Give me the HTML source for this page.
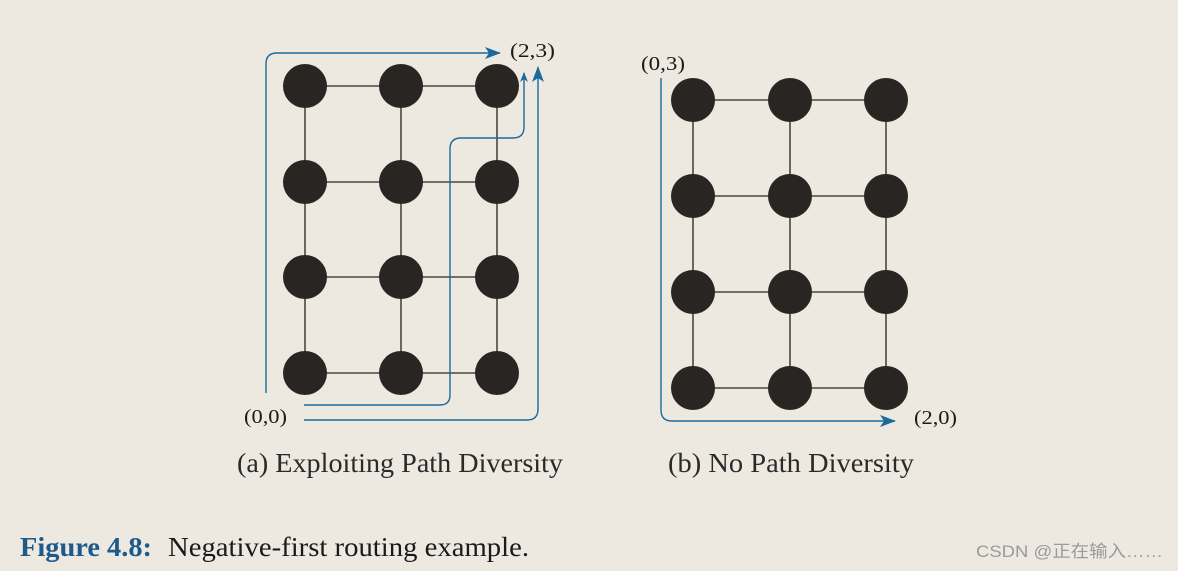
<!DOCTYPE html>
<html><head><meta charset="utf-8"><style>
html,body{margin:0;padding:0;background:#ede9e1;}
svg{display:block}
</style></head><body>
<svg width="1178" height="571" viewBox="0 0 1178 571" xmlns="http://www.w3.org/2000/svg" font-family="Liberation Serif, serif">
<rect width="1178" height="571" fill="#ede9e1"/>
<defs>
<marker id="ah" markerWidth="10" markerHeight="8" refX="9" refY="4" orient="auto" markerUnits="userSpaceOnUse">
<path d="M0,0 L10,4 L0,8 L3,4 Z" fill="#1a6a9c"/>
</marker>
<marker id="ahs" markerWidth="16" markerHeight="12" refX="15" refY="6" orient="auto" markerUnits="userSpaceOnUse">
<path d="M0,0 L16,6 L0,12 L4,6 Z" fill="#1a6a9c"/>
</marker>
</defs>
<g stroke="#4a4744" stroke-width="1.6">
<line x1="305" y1="86" x2="497" y2="86"/><line x1="305" y1="182" x2="497" y2="182"/>
<line x1="305" y1="277" x2="497" y2="277"/><line x1="305" y1="373" x2="497" y2="373"/>
<line x1="305" y1="86" x2="305" y2="373"/><line x1="401" y1="86" x2="401" y2="373"/><line x1="497" y1="86" x2="497" y2="373"/>
</g>
<g fill="#292522">
<circle cx="305" cy="86" r="22"/><circle cx="401" cy="86" r="22"/><circle cx="497" cy="86" r="22"/>
<circle cx="305" cy="182" r="22"/><circle cx="401" cy="182" r="22"/><circle cx="497" cy="182" r="22"/>
<circle cx="305" cy="277" r="22"/><circle cx="401" cy="277" r="22"/><circle cx="497" cy="277" r="22"/>
<circle cx="305" cy="373" r="22"/><circle cx="401" cy="373" r="22"/><circle cx="497" cy="373" r="22"/>
</g>
<g fill="none" stroke="#1a6a9c" stroke-width="1.4">
<path d="M266,393 V64 Q266,53 277,53 H500" marker-end="url(#ahs)"/>
<path d="M304,405 H440 Q450,405 450,395 V149 Q450,138 461,138 H513 Q524,138 524,127 V73" marker-end="url(#ah)"/>
<path d="M304,420 H527 Q538,420 538,409 V67" marker-end="url(#ahs)"/>
</g>
<text x="510" y="57" font-size="20" fill="#1a1a1a" textLength="45" lengthAdjust="spacingAndGlyphs">(2,3)</text>
<text x="244" y="423" font-size="20" fill="#1a1a1a" textLength="43" lengthAdjust="spacingAndGlyphs">(0,0)</text>
<text x="237" y="472" font-size="27" fill="#2a2a2a" textLength="326" lengthAdjust="spacingAndGlyphs">(a) Exploiting Path Diversity</text>
<g stroke="#4a4744" stroke-width="1.6">
<line x1="693" y1="100" x2="886" y2="100"/><line x1="693" y1="196" x2="886" y2="196"/>
<line x1="693" y1="292" x2="886" y2="292"/><line x1="693" y1="388" x2="886" y2="388"/>
<line x1="693" y1="100" x2="693" y2="388"/><line x1="790" y1="100" x2="790" y2="388"/><line x1="886" y1="100" x2="886" y2="388"/>
</g>
<g fill="#292522">
<circle cx="693" cy="100" r="22"/><circle cx="790" cy="100" r="22"/><circle cx="886" cy="100" r="22"/>
<circle cx="693" cy="196" r="22"/><circle cx="790" cy="196" r="22"/><circle cx="886" cy="196" r="22"/>
<circle cx="693" cy="292" r="22"/><circle cx="790" cy="292" r="22"/><circle cx="886" cy="292" r="22"/>
<circle cx="693" cy="388" r="22"/><circle cx="790" cy="388" r="22"/><circle cx="886" cy="388" r="22"/>
</g>
<path d="M661,78 V410 Q661,421 672,421 H895" fill="none" stroke="#1a6a9c" stroke-width="1.4" marker-end="url(#ahs)"/>
<text x="641" y="70" font-size="20" fill="#1a1a1a" textLength="44" lengthAdjust="spacingAndGlyphs">(0,3)</text>
<text x="914" y="424" font-size="20" fill="#1a1a1a" textLength="43" lengthAdjust="spacingAndGlyphs">(2,0)</text>
<text x="668" y="472" font-size="27" fill="#2a2a2a" textLength="246" lengthAdjust="spacingAndGlyphs">(b) No Path Diversity</text>
<text x="20" y="556" font-size="27" font-weight="bold" fill="#1d5a8c" textLength="132" lengthAdjust="spacingAndGlyphs">Figure 4.8:</text>
<text x="168" y="556" font-size="27" fill="#1a1a1a" textLength="361" lengthAdjust="spacingAndGlyphs">Negative-first routing example.</text>
<text x="976" y="557" font-size="17" fill="#9a9a9a" font-family="Liberation Sans, Noto Sans CJK SC, sans-serif" textLength="187" lengthAdjust="spacingAndGlyphs">CSDN @正在输入……</text>
</svg>
</body></html>
